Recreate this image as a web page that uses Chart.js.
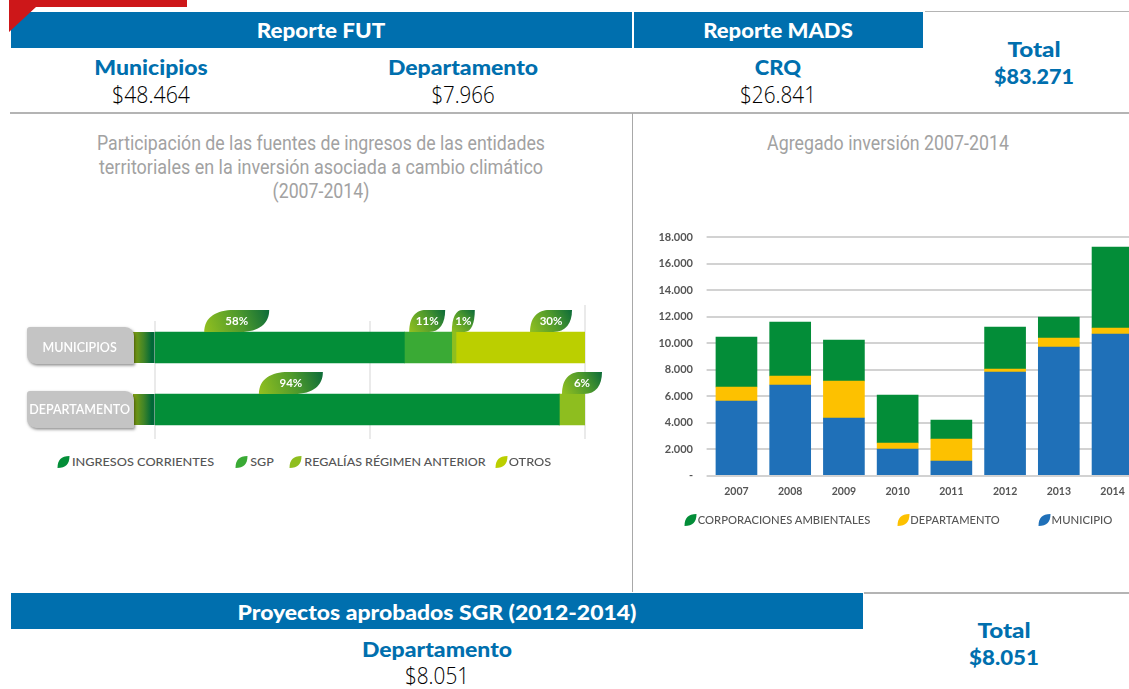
<!DOCTYPE html>
<html lang="es"><head><meta charset="utf-8">
<script src="https://cdn.jsdelivr.net/npm/chart.js@4"></script>
<style>
html,body{margin:0;padding:0;background:#fff;width:1129px;height:689px;overflow:hidden;position:relative}
.b{position:absolute}
.t{position:absolute;white-space:nowrap;line-height:1;transform-origin:center center}
canvas{position:absolute}
#c1{left:0;top:290px}
#c2{left:640px;top:225px}
</style></head><body>
<div class="b" style="left:11px;top:12px;width:621px;height:36px;background:#006fae"></div>
<div class="b" style="left:634px;top:12px;width:289px;height:36px;background:#006fae"></div>
<svg class="b" style="left:0;top:0" width="190" height="34"><polygon points="9,0 187,0 187,7 36,7 9,32" fill="#cd1719"/></svg>
<div class="b" style="left:925px;top:10.5px;width:204px;height:1.5px;background:#b4b4b4"></div>
<div class="b" style="left:10px;top:112px;width:1119px;height:1.5px;background:#b4b4b4"></div>
<div class="b" style="left:632px;top:113px;width:1.2px;height:479px;background:#a8a8a8"></div>
<div class="b" style="left:11px;top:593px;width:852px;height:36px;background:#006fae"></div>
<div class="b" style="left:864px;top:592px;width:265px;height:1.5px;background:#b4b4b4"></div>
<canvas id="c1" width="640" height="160" style="width:640px;height:160px"></canvas>
<canvas id="c2" width="500" height="290" style="width:500px;height:290px"></canvas>
<div id="txt"></div>
<script>
// ---- chart 1: participación de fuentes (%)
const rows = ['MUNICIPIOS', 'DEPARTAMENTO'];
const ingresos = [58, 94];
const sgp = [11, 0];
const regalias = [1, 6];
const otros = [30, 0];
// ---- chart 2: agregado inversión
const years = ['2007','2008','2009','2010','2011','2012','2013','2014'];
const municipio = [5631, 6838, 4349, 2011, 1106, 7818, 9703, 10684];
const departamento = [1056, 678, 2790, 453, 1659, 226, 679, 452];
const corporaciones = [3770, 4073, 3092, 3620, 1433, 3168, 1584, 6109];

const GREENS = {ing:'#038e38', sgp:'#3aaa35', reg:'#8ebe1f', otr:'#bbcf00'};
const C2 = {corp:'#038d38', dep:'#fdc100', mun:'#1f70b8'};
const UI = 'Lato, "Noto Sans", sans-serif';

function leafPath(ctx,x,y,w,h){
  ctx.beginPath();
  ctx.moveTo(x,y+h);
  ctx.bezierCurveTo(x,y+.3*h,x+.2*w,y,x+.45*w,y);
  ctx.lineTo(x+w,y);
  ctx.bezierCurveTo(x+w,y+.6*h,x+.85*w,y+h,x+.55*w,y+h);
  ctx.closePath();
}
function smallLeaf(ctx,x,y,w,h){
  ctx.beginPath();
  ctx.moveTo(x,y+h);
  ctx.bezierCurveTo(x,y+.35*h,x+.3*w,y,x+w,y);
  ctx.bezierCurveTo(x+w,y+.65*h,x+.7*w,y+h,x,y+h);
  ctx.closePath();
}
// leaf callouts: [dataset, row, axis position of the leaf centre, leaf width, leaf height]
const callouts = [
 [0,0,19,65,22],[1,0,63.3,36,22],[2,0,71.7,23,22],[3,0,92.1,42,22],
 [0,1,31.6,64,22],[2,1,99.3,40,22]
];
const panel = {
  id:'panel',
  beforeDraw(c){
    const ctx=c.ctx, x0=c.scales.x.getPixelForValue(0);
    const meta=c.getDatasetMeta(0);
    meta.data.forEach((bar)=>{
      const top=bar.y-15.5,h=31;
      const g=ctx.createLinearGradient(x0-21,0,x0+1,0);
      g.addColorStop(0,'#7f9f12');g.addColorStop(.45,'#3f8428');g.addColorStop(.8,'#006838');g.addColorStop(1,'#006838');
      ctx.fillStyle=g;ctx.fillRect(x0-22,top,24,h);
      // pill behind the axis label
      const px=27,pw=107,py=bar.y-(bar===meta.data[0]?20.5:18.5),ph=37;
      ctx.save();
      ctx.shadowColor='rgba(0,0,0,.45)';ctx.shadowBlur=3;ctx.shadowOffsetX=1;ctx.shadowOffsetY=1.5;
      ctx.fillStyle='#c4c4c4';
      ctx.beginPath();ctx.roundRect(px,py,pw,ph,[3,9,1,9]);ctx.fill();
      ctx.restore();
    });
  },
  beforeDatasetsDraw(c){
    const ctx=c.ctx,s=c.scales.x,a=c.chartArea;
    ctx.fillStyle='#d6d6d6';
    [[0,4.5],[50,4.5],[100,-11.5]].forEach(([v,d])=>{
      ctx.fillRect(Math.round(s.getPixelForValue(v))-.5,a.top+d,1,a.bottom-a.top-d-1.5);
    });
  },
  afterDatasetsDraw(c){
    const ctx=c.ctx,s=c.scales.x;
    callouts.forEach(([ds,row,at,w,h])=>{
      const bar=c.getDatasetMeta(ds).data[row];
      const cx=s.getPixelForValue(at),top=bar.y-15.5-h;
      const x=cx-w/2;
      const g=ctx.createLinearGradient(x,top+h,x+w,top);
      g.addColorStop(0,'#93c01f');g.addColorStop(.55,'#4f9a2c');g.addColorStop(1,'#0c6b39');
      ctx.fillStyle=g;leafPath(ctx,x,top,w,h);ctx.fill();
      ctx.fillStyle='#fff';ctx.font='700 11.5px '+UI;ctx.textAlign='center';ctx.textBaseline='middle';
      ctx.fillText(c.data.datasets[ds].data[row]+'%',cx,bar.y-15.5-11);
    });
  }
};
new Chart(document.getElementById('c1'),{
  type:'bar',
  data:{labels:rows,datasets:[
    {label:'INGRESOS CORRIENTES',data:ingresos,backgroundColor:GREENS.ing},
    {label:'SGP',data:sgp,backgroundColor:GREENS.sgp},
    {label:'REGALÍAS RÉGIMEN ANTERIOR',data:regalias,backgroundColor:GREENS.reg},
    {label:'OTROS',data:otros,backgroundColor:GREENS.otr}
  ]},
  options:{
    indexAxis:'y',responsive:false,animation:false,
    layout:{padding:{left:5,right:55,top:26.5,bottom:9.5}},
    datasets:{bar:{barThickness:31,borderWidth:0}},
    plugins:{legend:{display:false},tooltip:{enabled:false},title:{display:false}},
    scales:{
      x:{stacked:true,min:0,max:100,display:false},
      y:{stacked:true,
         afterFit(s){s.width=150;s.paddingTop=0;s.paddingBottom=0;},
         grid:{display:false},border:{display:false},
         ticks:{crossAlign:'center',color:'#ffffff',font:{family:UI,size:12.5,weight:'600'},padding:17}}
    }
  },
  plugins:[panel]
});
new Chart(document.getElementById('c2'),{
  type:'bar',
  data:{labels:years,datasets:[
    {label:'MUNICIPIO',data:municipio,backgroundColor:C2.mun},
    {label:'DEPARTAMENTO',data:departamento,backgroundColor:C2.dep},
    {label:'CORPORACIONES AMBIENTALES',data:corporaciones,backgroundColor:C2.corp}
  ]},
  options:{
    responsive:false,animation:false,
    layout:{padding:{left:0,right:.6,top:12,bottom:9.3}},
    datasets:{bar:{barThickness:41,borderWidth:0}},
    plugins:{legend:{display:false},tooltip:{enabled:false},title:{display:false}},
    scales:{
      x:{stacked:true,afterFit(s){s.height=30;},grid:{display:false},border:{display:false},
         ticks:{color:'#555',font:{family:UI,size:10.5,weight:'700'},padding:2,maxRotation:0,autoSkip:false}},
      y:{stacked:true,min:0,max:18000,afterFit(s){s.width=69.6;s.paddingTop=0;s.paddingBottom=0;},
         grid:{color:'#d2d2d2',lineWidth:2,tickLength:3},border:{display:false},
         ticks:{stepSize:2000,color:'#555',padding:13.6,font:{family:UI,size:11,weight:'700'},
           callback:v=>v===0?'-':v.toLocaleString('de-DE')}}
    }
  }
});

// ---- page text
const box=document.getElementById('txt');
function T(s,cx,cy,w,font,color){
  const e=document.createElement('span');e.className='t';e.textContent=s;
  e.style.font=font;e.style.color=color;e.style.lineHeight='1';box.appendChild(e);
  const k=w/e.offsetWidth;
  e.style.left=cx+'px';e.style.top=cy+'px';
  e.style.transform='translate(-50%,-50%) scaleX('+k+')';
}
const BLUE='#006fae',GREY='#a2a2a2',INK='#000',HB='900 21px '+UI,VAL='300 24px "Open Sans", sans-serif',TT='400 21px Roboto, sans-serif';
T('Reporte FUT',321,28.5,129,HB,'#fff');
T('Reporte MADS',778,28.5,150,HB,'#fff');
T('Municipios',151,66,114,HB,BLUE);
T('Departamento',462.5,66,150,HB,BLUE);
T('CRQ',778,66,46,HB,BLUE);
T('$48.464',151,94,78,VAL,INK);
T('$7.966',462.5,94,63,VAL,INK);
T('$26.841',778,94,76,VAL,INK);
T('Total',1033.5,48,53,HB,BLUE);
T('$83.271',1034,74.5,80,HB,BLUE);
T('Participación de las fuentes de ingresos de las entidades',321,143,448,TT,GREY);
T('territoriales en la inversión asociada a cambio climático',321,167,444,TT,GREY);
T('(2007-2014)',321,191,97,TT,GREY);
T('Agregado inversión 2007-2014',888,143,242,TT,GREY);
T('Proyectos aprobados SGR (2012-2014)',436.5,610.5,399,HB,'#fff');
T('Departamento',437,648,150,HB,BLUE);
T('$8.051',437,675,64,VAL,INK);
T('Total',1003.5,628.5,53,HB,BLUE);
T('$8.051',1004,655.5,70,HB,BLUE);

// ---- legends
function legend(items,cy){
  items.forEach(([label,color,leafX,textX,textW])=>{
    const c=document.createElement('canvas');c.width=14;c.height=14;
    c.style.left=leafX+'px';c.style.top=(cy-7)+'px';box.appendChild(c);
    const g=c.getContext('2d');g.fillStyle=color;smallLeaf(g,.5,1,12,12);g.fill();
    T(label,textX+textW/2,cy,textW,'500 12px '+UI,'#555');
  });
}
legend([
 ['INGRESOS CORRIENTES',GREENS.ing,57,72,142],
 ['SGP',GREENS.sgp,235,249.5,24],
 ['REGALÍAS RÉGIMEN ANTERIOR',GREENS.reg,289,304,181],
 ['OTROS',GREENS.otr,495,509,42.5]
],461.5);
legend([
 ['CORPORACIONES AMBIENTALES',C2.corp,684,697.7,173],
 ['DEPARTAMENTO',C2.dep,896.5,910,89],
 ['MUNICIPIO',C2.mun,1038,1051.7,60.5]
],520);
</script>
</body></html>
